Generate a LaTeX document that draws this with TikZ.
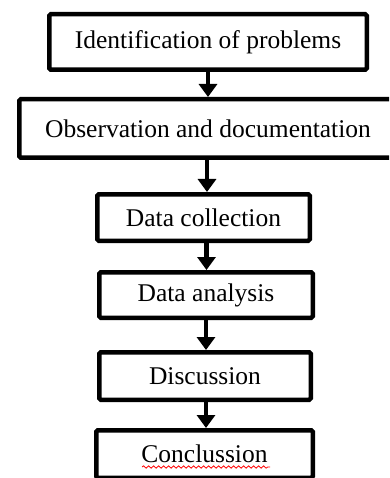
\documentclass[tikz,border=0pt]{standalone}
\usepackage{fontspec}
\setmainfont{Liberation Serif}
\usetikzlibrary{arrows.meta,decorations.pathmorphing}
\begin{document}
\begin{tikzpicture}[x=1pt,y=-1pt,
  stepbox/.style={draw=black,line width=4.5pt,rounded corners=1.5pt,fill=white,
    inner sep=0pt,font=\fontsize{25.5}{28}\selectfont},
  flow/.style={line width=4.5pt,-{Triangle[width=18pt,length=13pt]}}]
\clip (0,0) rectangle (389,478);
\fill[white] (0,0) rectangle (389,478);
\node[stepbox,minimum width=317.5pt,minimum height=55.5pt] (b1) at (208,42) {Identification of problems};
\node[stepbox,minimum width=377.5pt,minimum height=58.5pt] (b2) at (208,128.5) {Observation and documentation};
\node[stepbox,minimum width=212.5pt,minimum height=46.5pt] (b3) at (203.5,217.5) {Data collection};
\node[stepbox,minimum width=213.5pt,minimum height=45.5pt] (b4) at (206,295) {Data analysis};
\node[stepbox,minimum width=211.5pt,minimum height=47.5pt] (b5) at (205,376) {Discussion};
\node[stepbox,minimum width=216.5pt,minimum height=47.5pt] (b6) at (204.5,454) {Conclussion};
\coordinate (sq1) at (142,467);
\coordinate (sq2) at (270,467);
\draw[red,line width=0.8pt,decorate,decoration={snake,amplitude=1.2pt,segment length=5pt}] (sq1) -- (sq2);
\draw[flow] (b1.south) -- (b1.south |- b2.north);
\draw[flow] ([xshift=-1pt]b2.south) -- ([xshift=-1pt]b2.south |- b3.north);
\draw[flow] ([xshift=3pt]b3.south) -- ([xshift=3pt]b3.south |- b4.north);
\draw[flow] (b4.south) -- (b4.south |- b5.north);
\draw[flow] ([xshift=1pt]b5.south) -- ([xshift=1pt]b5.south |- b6.north);
\end{tikzpicture}
\end{document}
